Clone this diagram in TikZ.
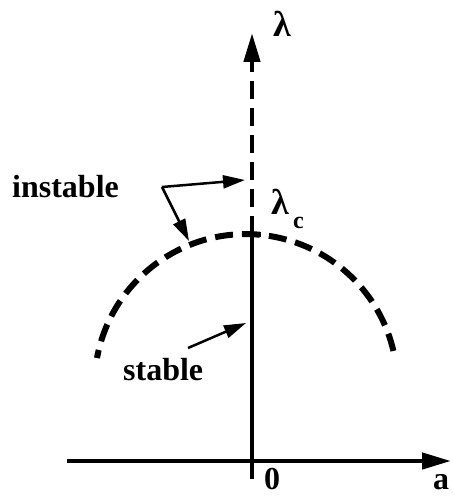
\documentclass[tikz,border=0pt]{standalone}
\usepackage{fontspec}
\setmainfont{Liberation Serif}
\usetikzlibrary{arrows.meta}
\begin{document}
\begin{tikzpicture}[x=1pt,y=-1pt,
  axis/.style={line width=4.5pt},
  bigtip/.style={-{Triangle[length=29pt,width=16pt]}},
  smalltip/.style={line width=2.5pt,-{Triangle[length=22pt,width=13pt]}},
  lbl/.style={inner sep=0pt,anchor=base west,font=\bfseries\fontsize{32}{38}\selectfont},
  lamlbl/.style={inner sep=0pt,anchor=base west,font=\bfseries\fontsize{36}{40}\selectfont},
  sublbl/.style={inner sep=0pt,anchor=base west,font=\bfseries\fontsize{24}{28}\selectfont},
  arcdash/.style={line width=6pt,dash pattern=on 18pt off 9pt,dash phase=9.8pt}]
\useasboundingbox (0,0) rectangle (452,497);
% axes
\coordinate (hl) at (67,461);
\coordinate (hr) at (451,461);
\coordinate (vb) at (252,479);
\coordinate (crit) at (252,234);
\coordinate (vt) at (252,33);
\draw[axis,bigtip] (hl) -- (hr);
\draw[axis] (vb) -- (crit);
\draw[axis,bigtip,dash pattern=on 18pt off 9pt] (crit) -- (vt);
% dashed arc
\coordinate (arcL) at (97,358);
\draw[arcdash] (arcL) arc[start angle=169.5,end angle=12.7,radius=151.5pt];
\draw[line width=5pt] (242,234) -- (261,234);
% labels
\node[lamlbl] (lam) at (273,37) {λ};
\node[lamlbl] (lamc) at (271,214) {λ};
\node[sublbl] (csub) at (293,228) {c};
\node[lbl] (zero) at (264,489) {0};
\node[lbl] (aa) at (433,489) {a};
\node[lbl] (inst) at (12,197) {instable};
\node[lbl] (stab) at (123,380) {stable};
% pointer arrows
\coordinate (corner) at (162,187);
\coordinate (ptU) at (245,180);
\coordinate (ptA) at (189,241);
\coordinate (sfrom) at (188,348);
\coordinate (sto) at (246,323);
\draw[smalltip] (corner) -- (ptU);
\draw[smalltip] (corner) -- (ptA);
\draw[smalltip] (sfrom) -- (sto);
\end{tikzpicture}
\end{document}
